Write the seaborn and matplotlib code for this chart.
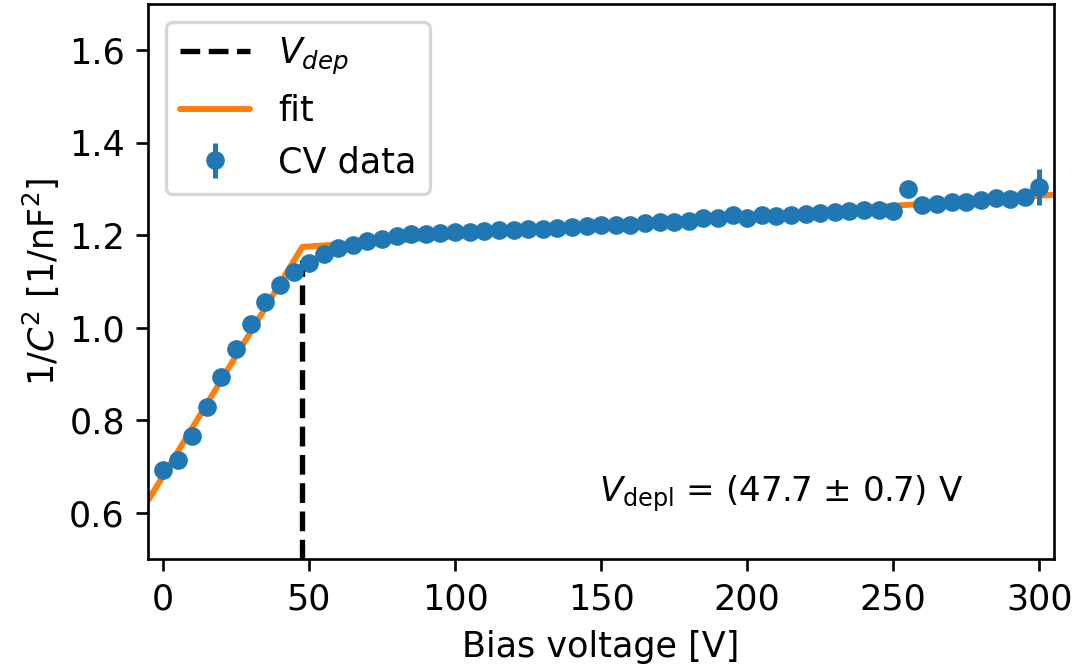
import matplotlib
matplotlib.use('Agg')
import matplotlib.pyplot as plt
import seaborn as sns

# ---- data ----
voltage = [0, 5, 10, 15, 20, 25, 30, 35, 40, 45, 50, 55, 60, 65, 70, 75, 80, 85, 90, 95,
           100, 105, 110, 115, 120, 125, 130, 135, 140, 145, 150, 155, 160, 165, 170, 175,
           180, 185, 190, 195, 200, 205, 210, 215, 220, 225, 230, 235, 240, 245, 250, 255,
           260, 265, 270, 275, 280, 285, 290, 295, 300]
inv_c2 = [0.694, 0.715, 0.766, 0.829, 0.893, 0.955, 1.009, 1.056, 1.093, 1.120,
          1.140, 1.159, 1.172, 1.180, 1.188, 1.193, 1.198, 1.202, 1.204, 1.206,
          1.208, 1.208, 1.209, 1.212, 1.212, 1.213, 1.213, 1.216, 1.218, 1.221,
          1.222, 1.223, 1.223, 1.226, 1.228, 1.229, 1.232, 1.238, 1.238, 1.244,
          1.238, 1.244, 1.242, 1.244, 1.246, 1.248, 1.250, 1.253, 1.254, 1.254,
          1.252, 1.301, 1.266, 1.268, 1.272, 1.272, 1.276, 1.281, 1.279, 1.283,
          1.304]
inv_c2_err = [0.004, 0.004, 0.004, 0.004, 0.004, 0.004, 0.004, 0.004, 0.004, 0.004,
              0.004, 0.004, 0.004, 0.004, 0.004, 0.004, 0.004, 0.004, 0.004, 0.004,
              0.004, 0.004, 0.004, 0.004, 0.004, 0.004, 0.004, 0.004, 0.004, 0.004,
              0.004, 0.004, 0.004, 0.004, 0.004, 0.004, 0.004, 0.004, 0.004, 0.004,
              0.004, 0.004, 0.004, 0.004, 0.004, 0.004, 0.004, 0.004, 0.004, 0.004,
              0.004, 0.008, 0.004, 0.004, 0.004, 0.004, 0.004, 0.004, 0.004, 0.004,
              0.039]
fit_voltage = [-5, 47.7, 305]
fit_inv_c2 = [0.628, 1.175, 1.288]
v_dep = 47.7
v_dep_err = 0.7
v_dep_line_top = 1.146
x_ticks = [0, 50, 100, 150, 200, 250, 300]
y_ticks = [0.6, 0.8, 1.0, 1.2, 1.4, 1.6]

sns.set_style('ticks', rc={
    'axes.edgecolor': 'black', 'text.color': 'black', 'axes.labelcolor': 'black',
    'xtick.color': 'black', 'ytick.color': 'black',
})
plt.rcParams['font.family'] = ['DejaVu Sans']
plt.rcParams['font.size'] = 10.5

fig, ax = plt.subplots(figsize=(1078 / 240, 670 / 240), dpi=240)
fig.subplots_adjust(left=0.1376, right=0.9777, bottom=0.1652, top=0.994)

h_vdep = ax.vlines(v_dep, 0.5, v_dep_line_top, colors='black', linestyles='--',
                   linewidth=1.6, label=r'$V_{dep}$')
sns.lineplot(x=fit_voltage, y=fit_inv_c2, ax=ax, color='#ff7f0e', linewidth=1.8,
             label='fit', sort=False)
h_fit = ax.lines[-1]
h_data = ax.errorbar(voltage, inv_c2, yerr=inv_c2_err, fmt='o', ms=4.6,
                     color='#1f77b4', label='CV data')

ax.set_xlim(-5, 305)
ax.set_ylim(0.5, 1.7)
ax.set_xticks(x_ticks)
ax.set_yticks(y_ticks)
ax.set_xlabel('Bias voltage [V]')
ax.set_ylabel(r'$1/C^2$ [1/nF$^2$]', labelpad=2)

ax.legend(handles=[h_vdep, h_fit, h_data],
          labels=[r'$V_{dep}$', 'fit', 'CV data'], loc='upper left')

ax.text(0.9, 0.104, r'$V_\mathrm{depl}$ = (' + f'{v_dep} ± {v_dep_err}' + ') V',
        transform=ax.transAxes, ha='right', va='baseline', fontsize=10.25)

fig.savefig('out.png', dpi=240)
